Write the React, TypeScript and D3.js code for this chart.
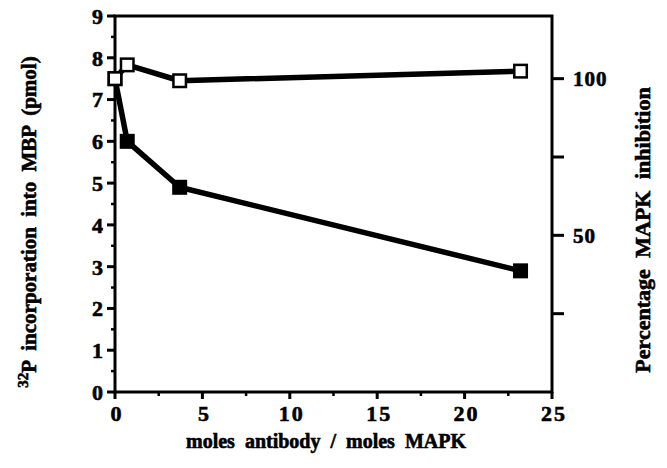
import React from "react";
import * as d3 from "d3";

const xOpen = [0, 0.7, 3.7, 23.2];
const yOpen = [7.5, 7.83, 7.45, 7.68];
const xFilled = [0, 0.7, 3.7, 23.2];
const yFilled = [7.5, 6.0, 4.9, 2.9];
const leftTicks = [0, 1, 2, 3, 4, 5, 6, 7, 8, 9];
const bottomTicks = [0, 5, 10, 15, 20, 25];
const rightTicks = [25, 50, 75, 100];
const rightLabels = [50, 100];

const W = 667, H = 468;
const L = 115, R = 552, T = 16, B = 392;
const FONT = "'Liberation Serif', 'Times New Roman', serif";

export default function App() {
  const x = d3.scaleLinear().domain([0, 25]).range([L, R]);
  const y = d3.scaleLinear().domain([0, 9]).range([B, T]);
  const y2 = d3.scaleLinear().domain([0, 120]).range([B, T]);
  const line = d3.line<[number, number]>().x(d => x(d[0])).y(d => y(d[1]));
  const openPts = xOpen.map((v, i) => [v, yOpen[i]] as [number, number]);
  const filledPts = xFilled.map((v, i) => [v, yFilled[i]] as [number, number]);
  const minorLeft = d3.range(0.5, 9, 1);
  const minorBottom = d3.range(2.5, 25, 5);
  const ms = 15;
  return (
    <svg width={W} height={H} style={{ position: "absolute", left: 0, top: 0, background: "#fff" }}>
      <g fontFamily={FONT} fontWeight="bold" fill="#000" stroke="#000" strokeWidth={0.6}>
        {leftTicks.map(t => (
          <text key={"lt" + t} x={L - 12} y={y(t)} dy="0.36em" textAnchor="end" fontSize={22}>{t}</text>
        ))}
        {bottomTicks.map(t => (
          <text key={"bt" + t} x={x(t) + 2} y={B + 29} textAnchor="middle" fontSize={22} letterSpacing={2}>{t}</text>
        ))}
        {rightLabels.map(t => (
          <text key={"rl" + t} x={R + 21} y={y2(t)} dy="0.36em" textAnchor="start" fontSize={21} letterSpacing={1}>{t}</text>
        ))}
        <text x={326} y={448} textAnchor="middle" fontSize={20} wordSpacing={5}>moles antibody / moles MAPK</text>
        <text transform={`translate(36, 222) rotate(-90)`} textAnchor="middle" fontSize={21} wordSpacing={5}>
          <tspan fontSize={15} dy="-8">32</tspan>
          <tspan dy="8">P incorporation into MBP (pmol)</tspan>
        </text>
        <text transform={`translate(650, 230) rotate(-90)`} textAnchor="middle" fontSize={22} wordSpacing={6}>Percentage MAPK inhibition</text>
      </g>
      <g>
        <rect x={L} y={T} width={R - L} height={B - T} fill="none" stroke="#000" strokeWidth={3} />
        {leftTicks.map(t => (
          <line key={"l" + t} x1={L - 8} x2={L} y1={y(t)} y2={y(t)} stroke="#000" strokeWidth={3} />
        ))}
        {minorLeft.map(t => (
          <line key={"lm" + t} x1={L - 4} x2={L} y1={y(t)} y2={y(t)} stroke="#000" strokeWidth={2.5} />
        ))}
        {bottomTicks.map(t => (
          <line key={"b" + t} x1={x(t)} x2={x(t)} y1={B} y2={B + 7} stroke="#000" strokeWidth={3} />
        ))}
        {minorBottom.map(t => (
          <line key={"bm" + t} x1={x(t)} x2={x(t)} y1={B} y2={B + 4} stroke="#000" strokeWidth={2.5} />
        ))}
        {rightTicks.map(t => (
          <line key={"r" + t} x1={R} x2={R + 12} y1={y2(t)} y2={y2(t)} stroke="#000" strokeWidth={3} />
        ))}
        <path d={line(filledPts) || ""} fill="none" stroke="#000" strokeWidth={5.5} strokeLinejoin="round" />
        <path d={line(openPts) || ""} fill="none" stroke="#000" strokeWidth={5.5} strokeLinejoin="round" />
        {filledPts.map((p, i) => (
          <rect key={"f" + i} x={x(p[0]) - ms / 2} y={y(p[1]) - ms / 2} width={ms} height={ms} fill="#000" />
        ))}
        {openPts.map((p, i) => (
          <rect key={"o" + i} x={x(p[0]) - ms / 2 + 1.25} y={y(p[1]) - ms / 2 + 1.25} width={ms - 2.5} height={ms - 2.5} fill="#fff" stroke="#000" strokeWidth={2.5} />
        ))}
      </g>
    </svg>
  );
}
